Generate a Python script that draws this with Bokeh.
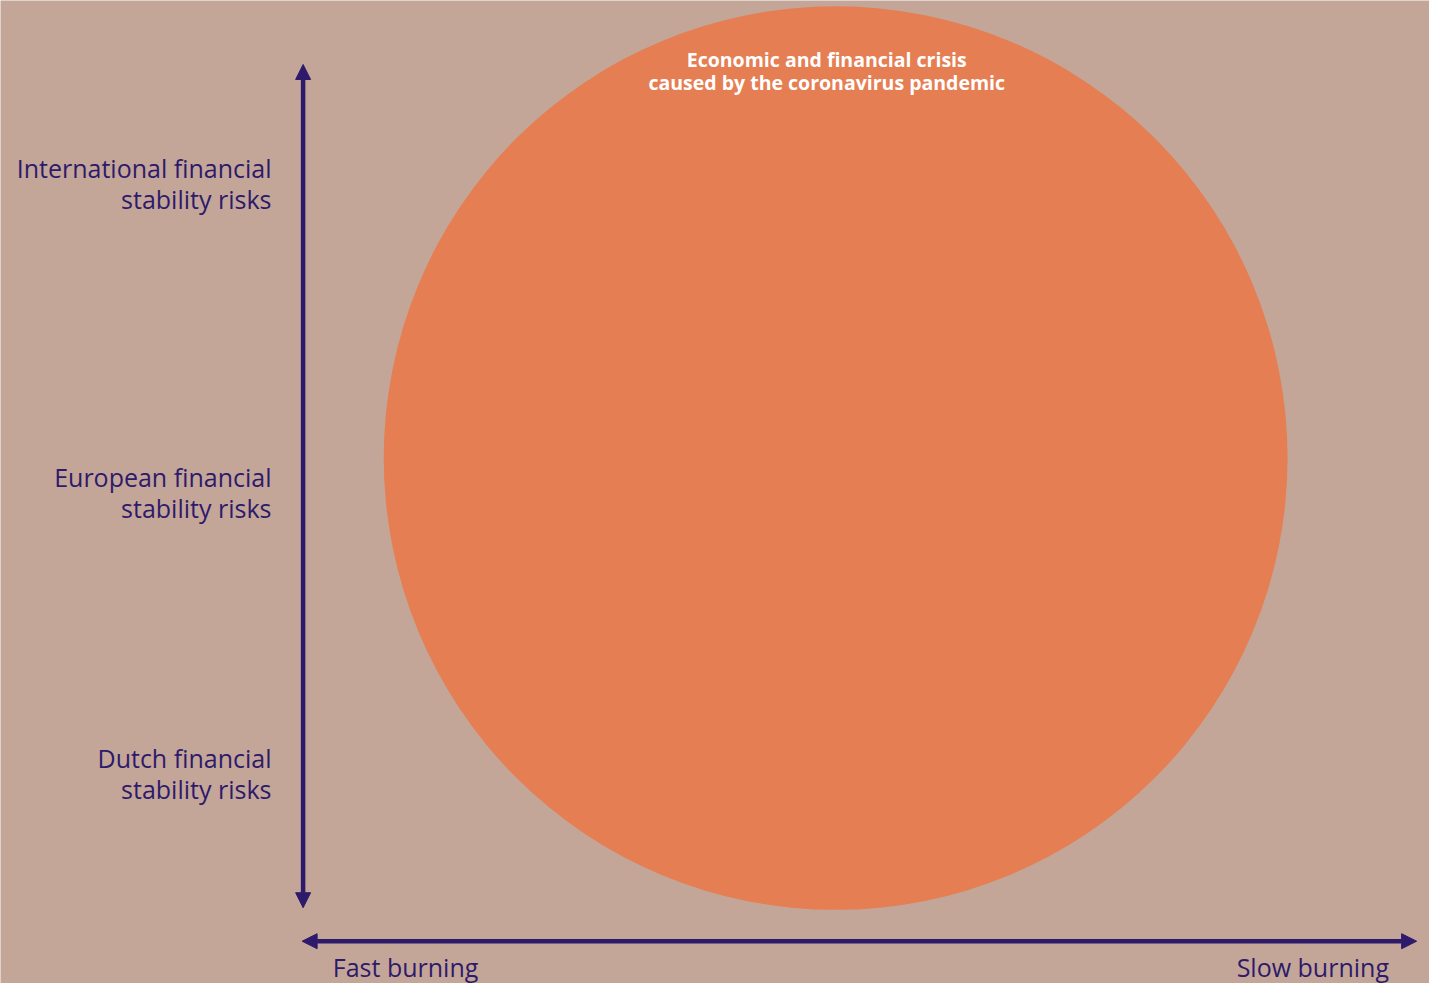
from bokeh.plotting import figure
from bokeh.models import Range1d, Arrow, NormalHead
from bokeh.core.properties import value
from bokeh.embed import file_html
from bokeh.resources import INLINE

# ---- data ----
level_labels = [["International financial", "stability risks"],
                ["European financial", "stability risks"],
                ["Dutch financial", "stability risks"]]
speed_labels = ["Fast burning", "Slow burning"]
bubble_names = [["Economic and financial crisis", "caused by the coronavirus pandemic"]]
bubble_x = [844.5]
bubble_y = [465]
bubble_r = [457]

# ---- style ----
BG = "#c4a698"
ORANGE = "#e57e53"
PURPLE = "#2e1a6b"
FONT = "Open Sans"

W, H = 1429, 983
p = figure(width=W, height=H, output_backend="svg", toolbar_location=None,
           x_range=Range1d(0, 1445), y_range=Range1d(999, 0),
           background_fill_color=BG, border_fill_color=BG,
           min_border=0, outline_line_color=None)
p.axis.visible = False
p.grid.visible = False

# bubble
p.circle(x=bubble_x, y=bubble_y, radius=bubble_r, fill_color=ORANGE, line_color=None)

# bubble titles
for name, bx, by, br in zip(bubble_names, bubble_x, bubble_y, bubble_r):
    top = by - br
    for i, line in enumerate(name):
        p.text(x=[bx - 9], y=[top + 52 + i * 23], text=[line], text_align="center",
               text_baseline="middle", text_color="white", text_font=value(FONT),
               text_font_size="19.5px", text_font_style="bold")

# axes arrows
ax_x = 306
y_top, y_bot = 65, 922
x_left, x_right = 305, 1432
ax_y = 956
for (xs, ys, xe, ye) in [(ax_x, y_bot, ax_x, y_top), (x_left, ax_y, x_right, ax_y)]:
    p.add_layout(Arrow(end=NormalHead(size=15, fill_color=PURPLE, line_color=PURPLE),
                       start=NormalHead(size=15, fill_color=PURPLE, line_color=PURPLE),
                       x_start=xs, y_start=ys, x_end=xe, y_end=ye,
                       line_color=PURPLE, line_width=4.5))

# level labels
level_mid = [170, 484, 770]
for lines, ym in zip(level_labels, level_mid):
    for i, line in enumerate(lines):
        p.text(x=[274], y=[ym + i * 31.5], text=[line], text_align="right",
               text_baseline="middle", text_color=PURPLE, text_font=value(FONT),
               text_font_size="25px")

# speed labels
p.text(x=[336], y=[982], text=[speed_labels[0]], text_align="left",
       text_baseline="middle", text_color=PURPLE, text_font=value(FONT),
       text_font_size="25px")
p.text(x=[1404], y=[982], text=[speed_labels[1]], text_align="right",
       text_baseline="middle", text_color=PURPLE, text_font=value(FONT),
       text_font_size="25px")

html = file_html(p, INLINE)
html = html.replace("<body>", '<body style="background-color:%s;">' % BG, 1)
open("out.html", "w").write(html)
